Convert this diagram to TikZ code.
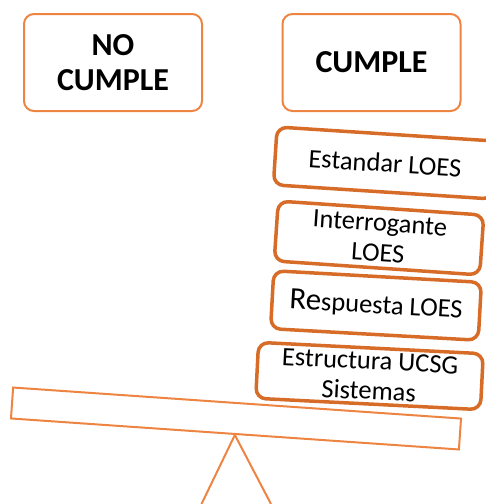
\documentclass[tikz,border=0pt]{standalone}
\usepackage{fontspec}
\setmainfont{Carlito}
\definecolor{lightor}{HTML}{ED8442}
\definecolor{darkor}{HTML}{D66C27}
\begin{document}
\begin{tikzpicture}[x=1pt,y=1pt,
  topbox/.style={draw=lightor, line width=2pt, rounded corners=10pt, minimum width=178pt, minimum height=97pt, align=center, font=\fontsize{32}{35}\selectfont\bfseries, inner sep=0pt},
  stackbox/.style={draw=darkor, line width=3.5pt, rounded corners=10pt, align=center, font=\fontsize{26.5}{30}\selectfont, inner sep=0pt, fill=white},
  beam/.style={draw=lightor, line width=2pt, inner sep=0pt, minimum width=449pt, minimum height=31pt}]
\useasboundingbox (0,0) rectangle (486,-504);
\node[topbox] (no) at (113,-62.5) {NO\\CUMPLE};
\node[topbox] (yes) at (371.5,-62.5) {CUMPLE};
\node[stackbox, rotate=-3.7, minimum width=220pt, minimum height=58pt] (s1) at (385,-163) {Estandar LOES};
\node[stackbox, rotate=-3.9, minimum width=206pt, minimum height=60pt] (s2) at (379,-238) {Interrogante\\LOES};
\node[stackbox, rotate=-3.2, minimum width=208pt, minimum height=58pt] (s3) at (376,-305.5) {{\fontsize{31}{30}\selectfont Re}spuesta LOES};
\node[stackbox, rotate=-2.9, minimum width=225pt, minimum height=56pt] (s4) at (369.5,-376) {Estructura UCSG\\Sistemas};
\node[beam, rotate=-3.96] (bm) at (236,-418.5) {};
\draw[lightor, line width=2pt] (201.5,-504) -- (bm.south) -- (271,-504);
\end{tikzpicture}
\end{document}
